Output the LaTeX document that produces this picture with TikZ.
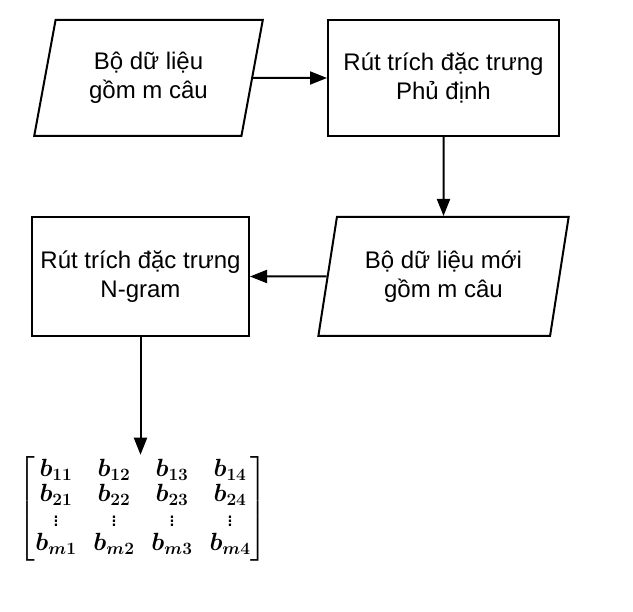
\documentclass[tikz,border=0pt]{standalone}
\usepackage{amsmath}
\usepackage{fontspec}
\setmainfont{Liberation Sans}
\usetikzlibrary{shapes.geometric}
\usetikzlibrary{arrows.meta}

\begin{document}
\begin{tikzpicture}[x=1pt,y=-1pt,line width=2pt,
  every node/.style={font=\fontsize{24}{28.5}\selectfont,align=center},
  databox/.style={draw,trapezium,trapezium left angle=75,trapezium right angle=105,
    trapezium stretches=true,inner sep=0pt},
  stepbox/.style={draw,rectangle,inner sep=0pt},
  flow/.style={-{Triangle[length=17pt,width=13pt]}}]
  \useasboundingbox (0,0) rectangle (633,612);

  \node[databox,minimum width=229pt,minimum height=116pt] (data) at (148.5,78) {Bộ dữ liệu\\gồm m câu};
  \node[stepbox,minimum width=231pt,minimum height=116pt] (neg) at (443.5,78) {Rút trích đặc trưng\\Phủ định};
  \node[databox,minimum width=251pt,minimum height=119pt] (newdata) at (443.5,276.5) {Bộ dữ liệu mới\\gồm m câu};
  \node[stepbox,minimum width=217pt,minimum height=119pt] (ngram) at (140.5,276.5) {Rút trích đặc trưng\\N-gram};
  \node[inner sep=1pt,font=\fontsize{23}{26}\selectfont] (mat) at (143,509)
    {$\boldmath\setlength{\arraycolsep}{8.5pt}\renewcommand{\arraystretch}{0.95}\begin{bmatrix}
      b_{11} & b_{12} & b_{13} & b_{14}\\
      b_{21} & b_{22} & b_{23} & b_{24}\\
      \vdots & \vdots & \vdots & \vdots\\
      b_{m1} & b_{m2} & b_{m3} & b_{m4}
    \end{bmatrix}$};

  \draw[flow] (data) -- (neg);
  \draw[flow] (neg) -- (newdata);
  \draw[flow] (newdata) -- (ngram);
  \draw[flow] (ngram.south) -- (ngram.south |- mat.north);
\end{tikzpicture}
\end{document}
